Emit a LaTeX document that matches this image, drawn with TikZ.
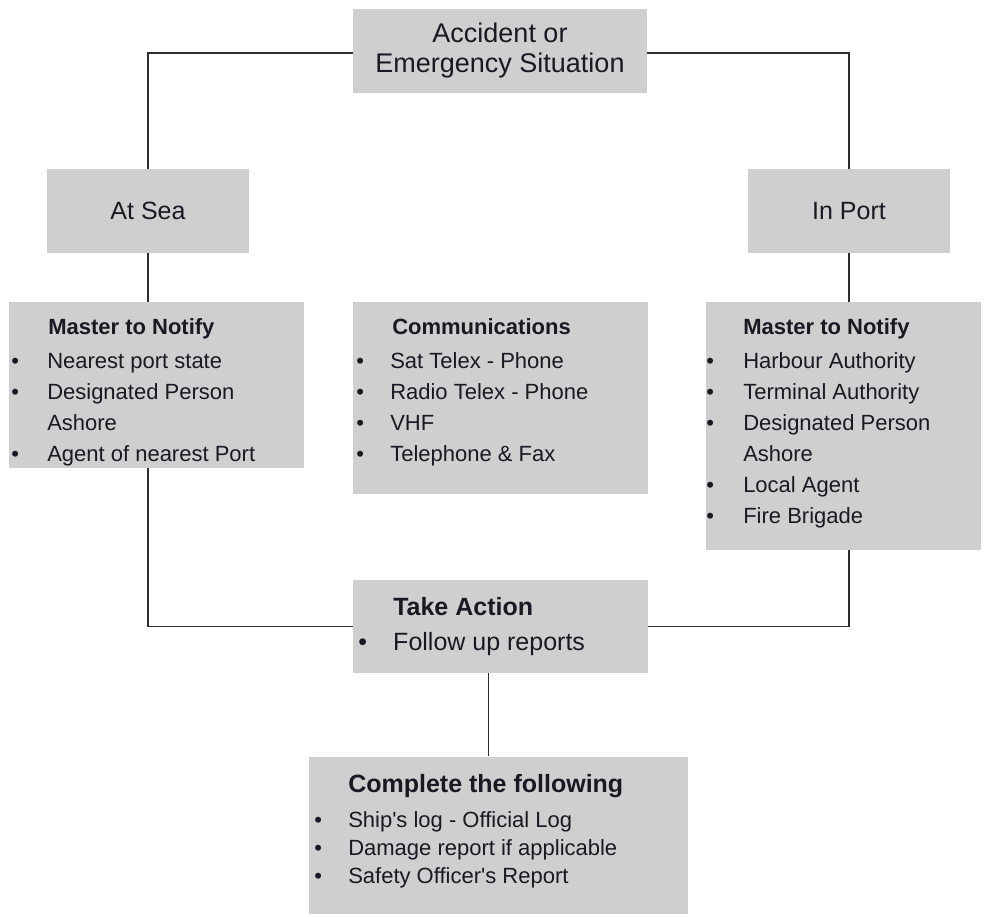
\documentclass[tikz,border=0pt]{standalone}
\usepackage{fontspec}
\setmainfont{Liberation Sans}
\usetikzlibrary{positioning}

% one pixel of the drawing
\newdimen\pxu
\pxu=0.75pt

\definecolor{boxgray}{RGB}{207,207,207}
\definecolor{inkblack}{RGB}{25,25,35}
\definecolor{linegray}{RGB}{45,45,45}

% bullet item with its own indent
\newcommand{\itm}[2]{\makebox[#1\pxu][l]{\textbullet}#2}

\begin{document}
\begin{tikzpicture}[x=\pxu, y=-\pxu,
    box/.style={fill=boxgray, inner sep=0pt},
    txt/.style={inner sep=0pt, align=left, anchor=north west, text=inkblack,
                font=\fontsize{16.5}{23.25}\selectfont},
    link/.style={draw=linegray, line width=1.1pt}]

    \useasboundingbox (0,0) rectangle (986,917);

    % Caixas
    \node[box, minimum width=294\pxu, minimum height=84\pxu, align=center, text=inkblack,
          font=\fontsize{20.25}{22.5}\selectfont] (event) at (500,51)
          {Accident or\\Emergency Situation};
    \node[box, minimum width=202\pxu, minimum height=84\pxu, text=inkblack,
          font=\fontsize{18.75}{22}\selectfont] (sea) at (148,211) {At Sea};
    \node[box, minimum width=202\pxu, minimum height=84\pxu, text=inkblack,
          font=\fontsize{18.75}{22}\selectfont] (port) at (849,211) {In Port};

    \node[box, minimum width=295\pxu, minimum height=166\pxu] (seaNotify) at (156.5,385) {};
    \node[box, minimum width=295\pxu, minimum height=192\pxu] (comms) at (500.5,398) {};
    \node[box, minimum width=275\pxu, minimum height=248\pxu] (portNotify) at (843.5,426) {};
    \node[box, minimum width=295\pxu, minimum height=93\pxu] (action) at (500.5,626.5) {};
    \node[box, minimum width=379\pxu, minimum height=157\pxu] (report) at (498.5,835) {};

    % Textos das listas
    \node[txt] (seaNotifyText) at (11,318)
        {\hspace*{37\pxu}\textbf{Master to Notify}\\[3\pxu]
         \itm{36}{Nearest port state}\\
         \itm{36}{Designated Person}\\
         \hspace*{36\pxu}Ashore\\
         \itm{36}{Agent of nearest Port}};
    \node[txt] (commsText) at (356,318)
        {\hspace*{36\pxu}\textbf{Communications}\\[3\pxu]
         \itm{34}{Sat Telex - Phone}\\
         \itm{34}{Radio Telex - Phone}\\
         \itm{34}{VHF}\\
         \itm{34}{Telephone \& Fax}};
    \node[txt] (portNotifyText) at (706,318)
        {\hspace*{37\pxu}\textbf{Master to Notify}\\[3\pxu]
         \itm{37}{Harbour Authority}\\
         \itm{37}{Terminal Authority}\\
         \itm{37}{Designated Person}\\
         \hspace*{37\pxu}Ashore\\
         \itm{37}{Local Agent}\\
         \itm{37}{Fire Brigade}};
    \node[txt, font=\fontsize{18.75}{26.25}\selectfont] (actionText) at (358,597)
        {\hspace*{35\pxu}\textbf{Take Action}\\
         \itm{35}{Follow up reports}};
    \node[txt, font=\fontsize{16.5}{21}\selectfont] (reportText) at (314,774)
        {\hspace*{34\pxu}{\fontsize{18.75}{21}\selectfont\bfseries Complete the following}\\[7\pxu]
         \itm{34}{Ship\textquotesingle s log - Official Log}\\
         \itm{34}{Damage report if applicable}\\
         \itm{34}{Safety Officer\textquotesingle s Report}};

    % Ligacoes
    \draw[link] ([yshift=-2\pxu]event.west) -| (sea.north);
    \draw[link] ([yshift=-2\pxu]event.east) -| (port.north);
    \draw[link] (sea.south) -- (sea.south |- seaNotify.north);
    \draw[link] (port.south) -- (port.south |- portNotify.north);
    \draw[link] (sea.south |- seaNotify.south) |- (action.west);
    \draw[link] (port.south |- portNotify.south) |- (action.east);
    \coordinate (actionFoot) at ([xshift=-12\pxu]action.south);
    \draw[link] (actionFoot) -- (actionFoot |- report.north);

\end{tikzpicture}
\end{document}
